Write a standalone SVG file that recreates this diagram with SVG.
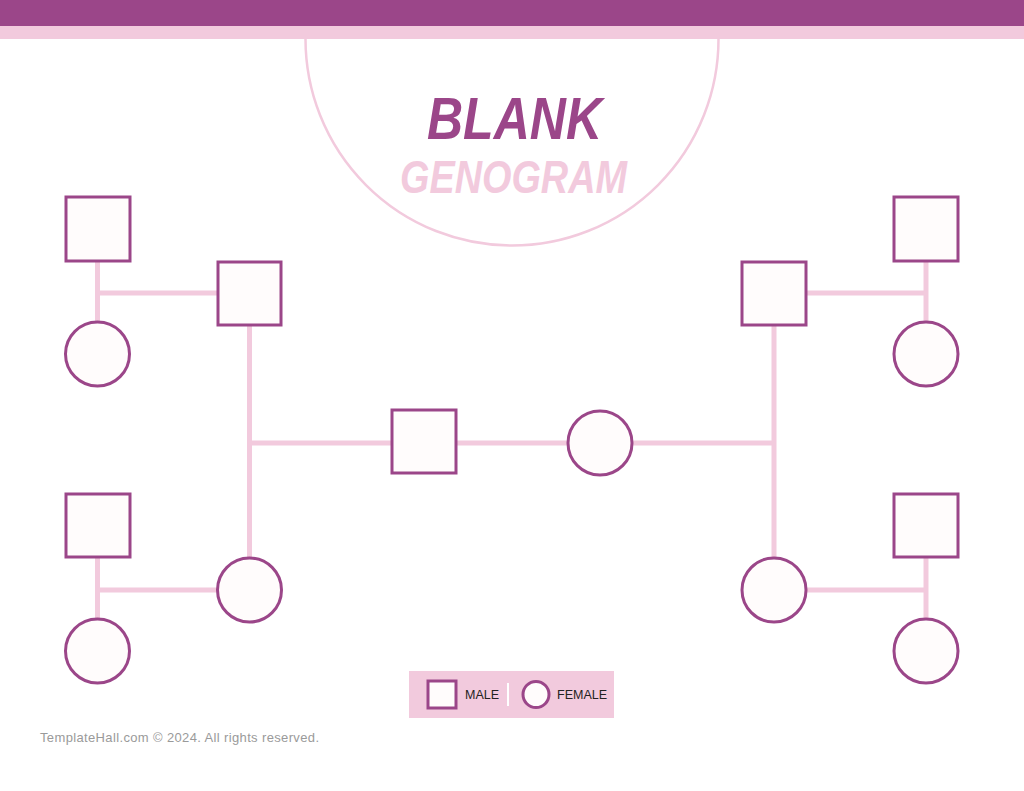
<svg xmlns="http://www.w3.org/2000/svg" width="1024" height="791" viewBox="0 0 1024 791">
<style>
.m{fill:#fffcfc;stroke:#9b4689;stroke-width:3}
.c line{stroke:#f2cadd;stroke-width:5}
.lbl{font-family:"Liberation Sans",Arial,sans-serif;font-size:12.5px;fill:#222}
</style>
<rect width="1024" height="791" fill="#ffffff"/>
<rect x="0" y="0" width="1024" height="26" fill="#9b4689"/>
<rect x="0" y="26" width="1024" height="13" fill="#f2cadd"/>
<path d="M305.5,39 A206.5,206.5 0 0 0 718.5,39" fill="none" stroke="#f2cadd" stroke-width="2.5"/>
<text x="427" y="139" font-family="'Liberation Sans',Arial,sans-serif" font-weight="bold" font-style="italic" font-size="60" fill="#9b4689" textLength="175" lengthAdjust="spacingAndGlyphs">BLANK</text>
<text x="400" y="193" font-family="'Liberation Sans',Arial,sans-serif" font-weight="bold" font-style="italic" font-size="46" fill="#f2cadd" textLength="227" lengthAdjust="spacingAndGlyphs">GENOGRAM</text>
<g id="connectors" class="c">
<line x1="97.5" y1="261" x2="97.5" y2="322"/>
<line x1="97.5" y1="293" x2="218" y2="293"/>
<line x1="249.5" y1="326" x2="249.5" y2="558"/>
<line x1="249.5" y1="443" x2="392" y2="443"/>
<line x1="457" y1="443" x2="568" y2="443"/>
<line x1="632" y1="443" x2="774" y2="443"/>
<line x1="774" y1="326" x2="774" y2="558"/>
<line x1="806" y1="293" x2="926" y2="293"/>
<line x1="926" y1="261" x2="926" y2="322"/>
<line x1="97.5" y1="558" x2="97.5" y2="619"/>
<line x1="97.5" y1="590" x2="218" y2="590"/>
<line x1="806" y1="590" x2="926" y2="590"/>
<line x1="926" y1="558" x2="926" y2="619"/>
</g>
<g id="n1"><rect class="m" x="66" y="197" width="64" height="64"/></g>
<g id="n2"><circle class="m" cx="97.5" cy="354" r="32"/></g>
<g id="n3"><rect class="m" x="218" y="262" width="63" height="63"/></g>
<g id="n4"><rect class="m" x="66" y="494" width="64" height="63"/></g>
<g id="n5"><circle class="m" cx="97.5" cy="651" r="32"/></g>
<g id="n6"><circle class="m" cx="249.5" cy="590" r="32"/></g>
<g id="n7"><rect class="m" x="392" y="410" width="64" height="63"/></g>
<g id="n8"><circle class="m" cx="600" cy="443" r="32"/></g>
<g id="n9"><rect class="m" x="742" y="262" width="64" height="63"/></g>
<g id="n10"><rect class="m" x="894" y="197" width="64" height="64"/></g>
<g id="n11"><circle class="m" cx="926" cy="354" r="32"/></g>
<g id="n12"><circle class="m" cx="774" cy="590" r="32"/></g>
<g id="n13"><rect class="m" x="894" y="494" width="64" height="63"/></g>
<g id="n14"><circle class="m" cx="926" cy="651" r="32"/></g>
<g id="legend">
<rect x="409" y="671" width="205" height="47" fill="#f2cadd"/>
<rect class="m" x="428" y="681" width="28" height="27" stroke-width="2.5"/>
<text class="lbl" x="465" y="699">MALE</text>
<line x1="508" y1="683" x2="508" y2="706" stroke="#ffffff" stroke-width="2"/>
<circle class="m" cx="536" cy="694.5" r="13" stroke-width="2.5"/>
<text class="lbl" x="557" y="699">FEMALE</text>
</g>
<text x="40" y="742" font-family="'Liberation Sans',Arial,sans-serif" font-size="13" fill="#9a9a9a" textLength="279">TemplateHall.com © 2024. All rights reserved.</text>
</svg>
